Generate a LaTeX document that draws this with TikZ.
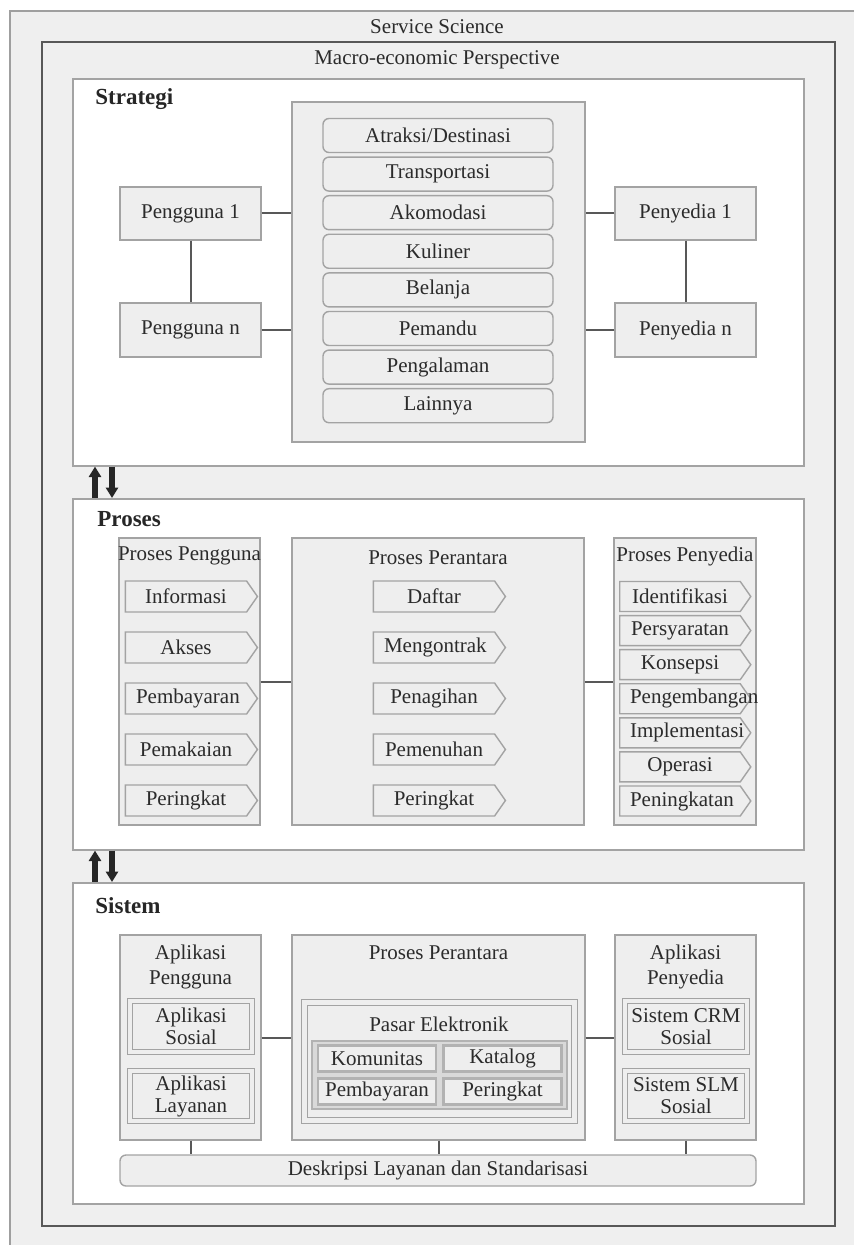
\documentclass[tikz,border=0pt]{standalone}
\usepackage{fontspec}
\setmainfont{Liberation Serif}
\usepackage{tikz}
\usetikzlibrary{shapes.symbols, arrows.meta, positioning, calc}
\definecolor{framegray}{HTML}{EFEFEF}
\definecolor{panelgray}{HTML}{EEEEEE}
\definecolor{edgegray}{HTML}{A3A3A3}
\definecolor{darkline}{HTML}{585858}
\definecolor{inkgray}{HTML}{2B2B2B}

\tikzset{
  every node/.style={font=\fontsize{10.5}{12.5}\selectfont, text=inkgray},
  section/.style={rectangle, draw=edgegray, fill=white, line width=0.8pt, anchor=north west, inner sep=0pt},
  panel/.style={rectangle, draw=edgegray, fill=panelgray, line width=0.7pt, inner sep=1pt},
  offer/.style={panel, rounded corners=3pt, minimum width=115pt, minimum height=17pt},
  flow/.style={signal, signal to=east, signal pointer angle=110, draw=edgegray, fill=panelgray,
               line width=0.7pt, minimum width=66pt, minimum height=15.5pt, text width=50pt,
               align=center, inner sep=1pt},
  twin/.style={panel, double=panelgray, double distance=2pt, line width=0.5pt, align=center,
               font=\fontsize{10.5}{11}\selectfont},
  cell/.style={panel, draw=gray!60, line width=1.4pt, inner sep=0.5pt, minimum width=59pt, minimum height=13pt},
  link/.style={draw=darkline, line width=1pt},
  heading/.style={font=\fontsize{11.5}{13}\selectfont\bfseries, text=black!85, anchor=west, inner xsep=0pt},
  swap/.style={draw=black!85, line width=2.8pt, -{Triangle[width=6pt, length=5.2pt]}}
}

\begin{document}
\begin{tikzpicture}[x=0.5pt, y=-0.5pt]
  \useasboundingbox (0,0) rectangle (854,1245);

  % ===== Frames =====
  \fill[framegray] (10,11) rectangle (854,1245);
  \draw[gray!75, line width=0.8pt] (10,1245) |- (854,11);
  \node (svc) at (437,27) {Service Science};
  \draw[darkline, line width=1.1pt, fill=framegray] (42,42) rectangle (835,1226);
  \node (macro) at (437,60) {Macro-economic Perspective};

  % ===== STRATEGI =====
  \node[section, minimum width=365.5pt, minimum height=193.5pt] (strat) at (72,78) {};
  \node[heading] (stratT) at (95,99) {Strategi};
  \node[panel, minimum width=146.5pt, minimum height=170pt] (offers) at (438.5,272) {};
  \foreach \i/\token in {0/{Atraksi/Destinasi}, 1/Transportasi, 2/Akomodasi, 3/Kuliner,
                         4/Belanja, 5/Pemandu, 6/Pengalaman, 7/Lainnya} {
    \node[offer] (o\i) at (438, 135.5+38.6*\i) {\token};
  }
  \node[panel, minimum width=70.5pt, minimum height=26.5pt] (usr1) at (190.5,213.5) {Pengguna 1};
  \node[panel, minimum width=70.5pt, minimum height=27pt] (usrn) at (190.5,330) {Pengguna n};
  \node[panel, minimum width=70.5pt, minimum height=26.5pt] (prv1) at (685.5,213.5) {Penyedia 1};
  \node[panel, minimum width=70.5pt, minimum height=27pt] (prvn) at (685.5,330) {Penyedia n};
  \draw[link] (usr1) -- (usrn);
  \draw[link] (prv1) -- (prvn);
  \draw[link] (usr1.east) -- (usr1.east -| offers.west);
  \draw[link] (usrn.east) -- (usrn.east -| offers.west);
  \draw[link] (prv1.west) -- (prv1.west -| offers.east);
  \draw[link] (prvn.west) -- (prvn.west -| offers.east);

  % ===== PROSES =====
  \node[section, minimum width=365.5pt, minimum height=175.5pt] (proc) at (72,498) {};
  \node[heading] (procT) at (97,519) {Proses};
  \node[panel, minimum width=70.5pt, minimum height=143.5pt] (userP) at (189.5,681.5) {};
  \node (userPT) at (189.5,556) {Proses Pengguna};
  \node[panel, minimum width=146pt, minimum height=143.5pt] (brokerP) at (438,681.5) {};
  \node (brokerPT) at (438,558) {Proses Perantara};
  \node[panel, minimum width=71pt, minimum height=143.5pt] (provP) at (685,681.5) {};
  \node (provPT) at (685,556) {Proses Penyedia};
  \foreach \i/\token in {0/Informasi, 1/Akses, 2/Pembayaran, 3/Pemakaian, 4/Peringkat} {
    \node[flow] (u\i) at (186, 596.5+51*\i) {\token};
  }
  \foreach \i/\token in {0/Daftar, 1/Mengontrak, 2/Penagihan, 3/Pemenuhan, 4/Peringkat} {
    \node[flow] (b\i) at (434, 596.5+51*\i) {\token};
  }
  \foreach \i/\token in {0/Identifikasi, 1/Persyaratan, 2/Konsepsi, 3/Pengembangan,
                         4/Implementasi, 5/Operasi, 6/Peningkatan} {
    \node[flow, minimum width=65.5pt, minimum height=15pt] (p\i) at (680, 596.5+34.08*\i) {\token};
  }
  \draw[link] (userP) -- (brokerP);
  \draw[link] (brokerP) -- (provP);

  % ===== SISTEM =====
  \node[section, minimum width=365.5pt, minimum height=160.5pt] (sys) at (72,882) {};
  \node[heading] (sysT) at (95,906) {Sistem};
  \node[panel, minimum width=70.5pt, minimum height=102.5pt] (userA) at (190.5,1037.5) {};
  \node[align=center] (userAT) at (190.5,967) {Aplikasi\\Pengguna};
  \node[twin, minimum width=61pt, minimum height=25.5pt] (social) at (191,1026.5) {Aplikasi\\Sosial};
  \node[twin, minimum width=61pt, minimum height=25pt] (service) at (191,1096) {Aplikasi\\Layanan};

  \node[panel, minimum width=146.5pt, minimum height=102.5pt] (brokerA) at (438.5,1037.5) {};
  \node (brokerAT) at (438.5,953) {Proses Perantara};
  \node[twin, double distance=2.5pt, minimum width=135pt, minimum height=59pt] (market) at (439,1061) {};
  \node (marketT) at (439,1024) {Pasar Elektronik};
  \node[panel, draw=gray!60, fill=gray!30, minimum width=127.5pt, minimum height=34pt] (grid) at (439.5,1075) {};
  \foreach \i/\token/\cx/\cy in {0/Komunitas/377/1058.5, 1/Katalog/502.5/1058.5,
                                 2/Pembayaran/377/1091.5, 3/Peringkat/502.5/1091.5} {
    \node[cell] (m\i) at (\cx,\cy) {\token};
  }

  \node[panel, minimum width=70.5pt, minimum height=102.5pt] (provA) at (685.5,1037.5) {};
  \node[align=center] (provAT) at (685.5,967) {Aplikasi\\Penyedia};
  \node[twin, minimum width=61pt, minimum height=25.5pt] (crm) at (686,1026.5) {Sistem CRM\\Sosial};
  \node[twin, minimum width=61pt, minimum height=25pt] (slm) at (686,1096) {Sistem SLM\\Sosial};

  \node[panel, rounded corners=3pt, minimum width=318pt, minimum height=15.5pt] (desc) at (438,1170.5)
        {Deskripsi Layanan dan Standarisasi};
  \draw[link] (userA) -- (brokerA);
  \draw[link] (brokerA) -- (provA);
  \draw[link] (userA.south) -- (userA.south |- desc.north);
  \draw[link] (brokerA.south) -- (brokerA.south |- desc.north);
  \draw[link] (provA.south) -- (provA.south |- desc.north);

  % ===== Arrows between layers =====
  \draw[swap] ([xshift=11.5pt]proc.north west) -- ([xshift=11.5pt]strat.south west);
  \draw[swap] ([xshift=20pt]strat.south west) -- ([xshift=20pt]proc.north west);
  \draw[swap] ([xshift=11.5pt]sys.north west) -- ([xshift=11.5pt]proc.south west);
  \draw[swap] ([xshift=20pt]proc.south west) -- ([xshift=20pt]sys.north west);
\end{tikzpicture}
\end{document}
